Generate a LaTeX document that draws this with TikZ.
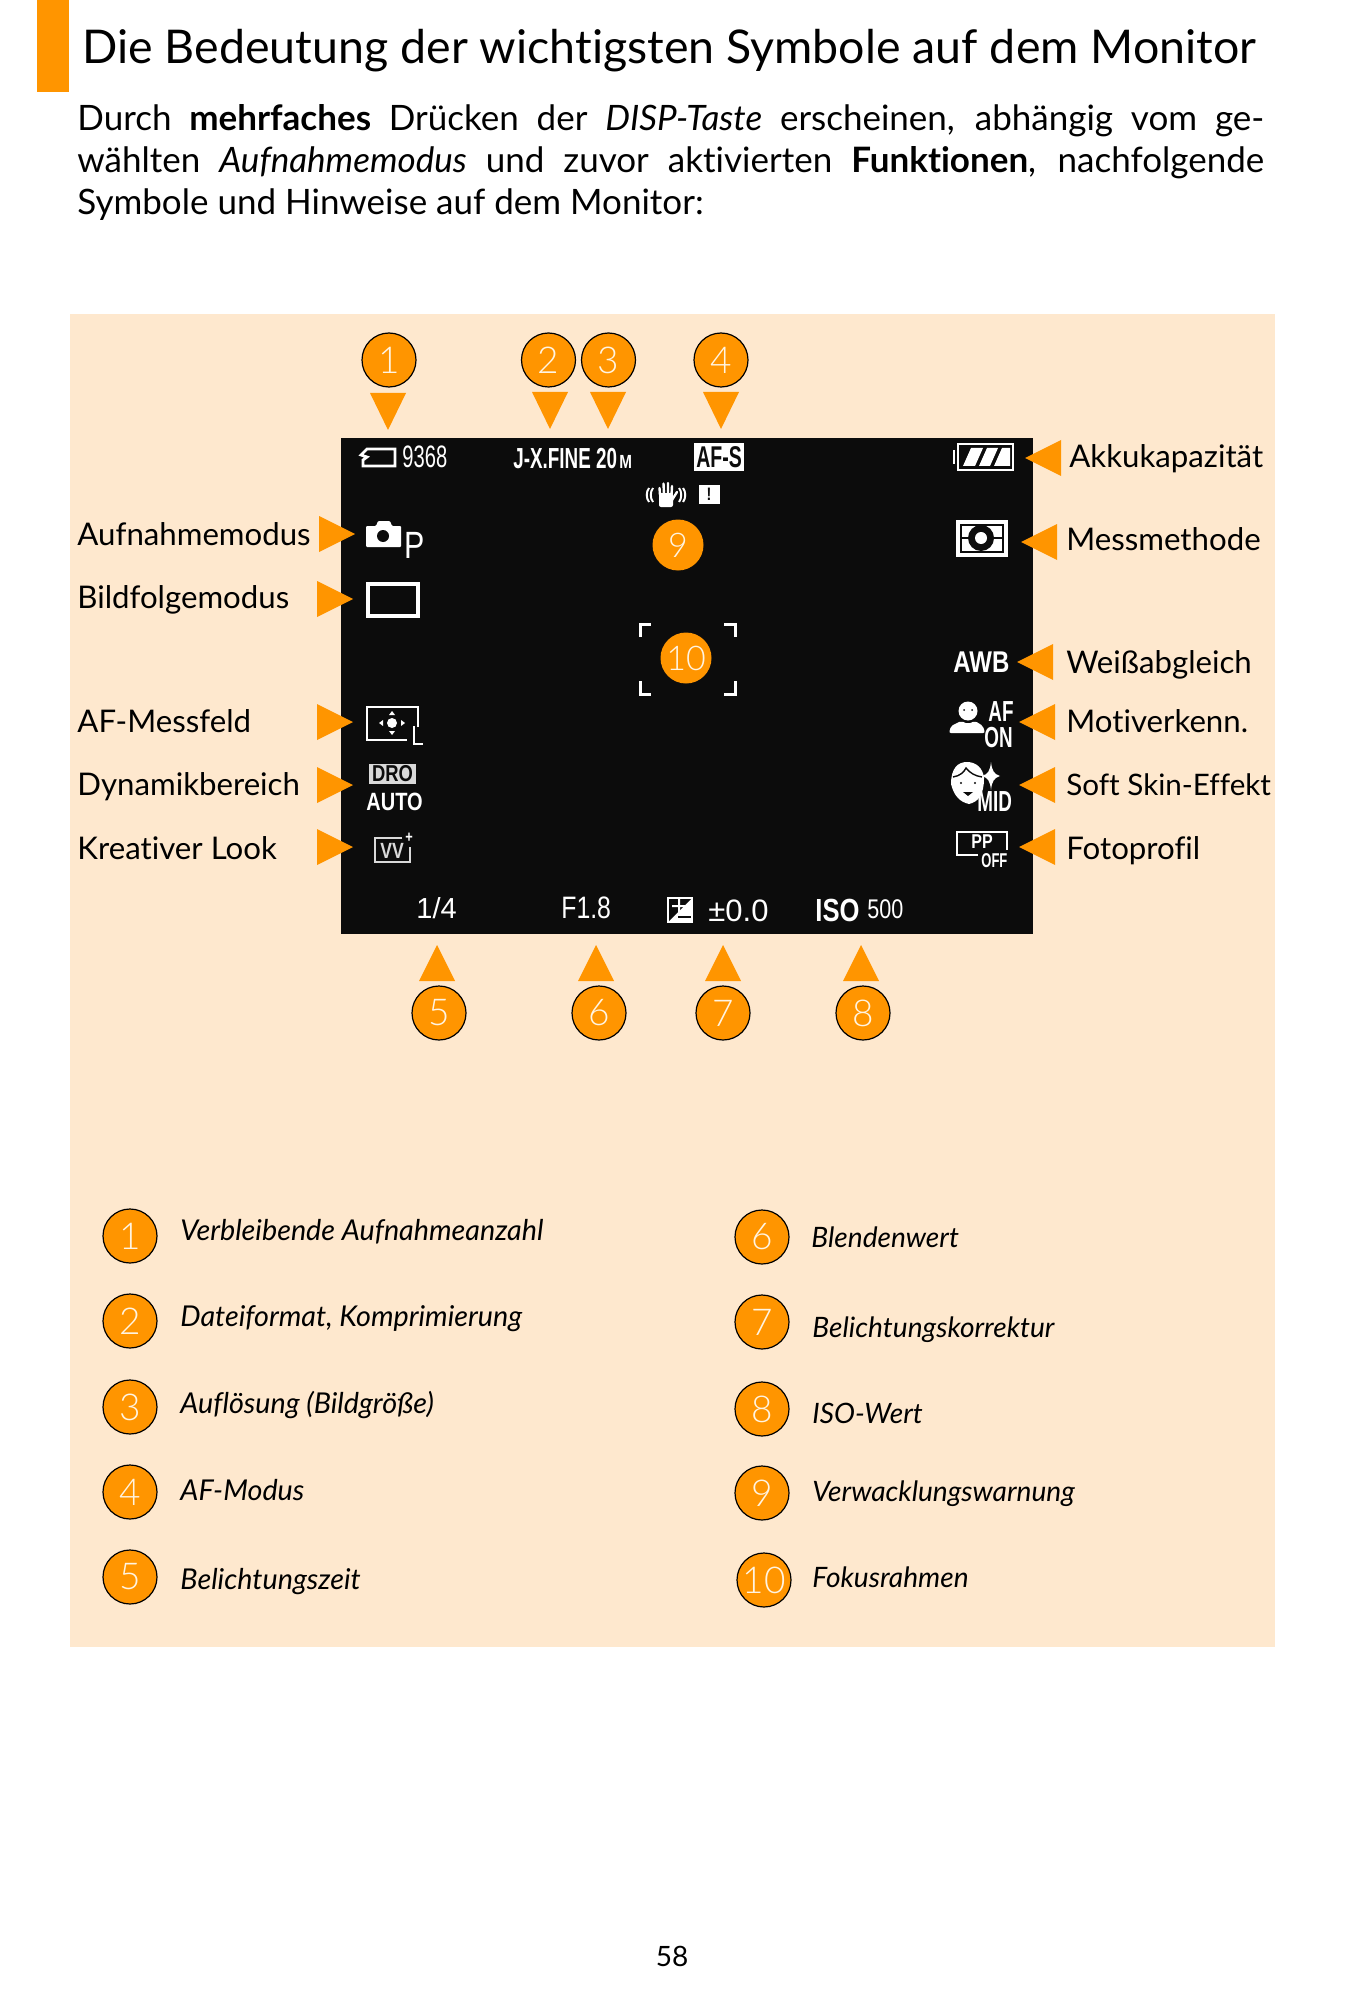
\documentclass[tikz,border=0pt]{standalone}
\usepackage{fontspec}
\usepackage{tikz}
\usetikzlibrary{positioning}
\setmainfont[Ligatures=NoCommon]{Lato}
\newfontfamily\numfont{Lato Light}
\newfontfamily\osdfont[FakeStretch=0.8]{Liberation Sans}
\newfontfamily\osdnarrow[FakeStretch=0.65]{Liberation Sans}
\newfontfamily\osdplain{Liberation Sans}
\definecolor{markorange}{HTML}{FF9500}
\definecolor{panelbg}{HTML}{FEE8CE}
\definecolor{screenbg}{HTML}{0C0C0C}
\definecolor{numcream}{HTML}{FFF4E2}
\newcommand{\fs}[1]{\fontsize{#1pt}{#1pt}\selectfont}
\tikzset{
x=0.5pt, y=-0.5pt, % one unit is one pixel of the page
numdot/.style={circle, draw=black, line width=0.6pt, fill=markorange, minimum size=27pt, inner sep=0pt, text=numcream, font=\numfont\fs{18.5}},
numflat/.style={circle, fill=markorange, minimum size=25.5pt, inner sep=0pt, text=numcream, font=\numfont\fs{17}},
sidelabel/.style={anchor=base west, inner sep=0pt, font=\fs{15.6}},
notelabel/.style={anchor=base west, inner sep=0pt, font=\fs{14.35}\itshape},
notelabelb/.style={anchor=base west, inner sep=0pt, font=\fs{14.05}\itshape},
osd/.style={anchor=base west, inner sep=0pt, text=white, font=\osdfont\fs{14}},
osdbold/.style={osd, font=\osdnarrow\bfseries\fs{14}},
glyph/.style={line width=1.4pt, draw=white},
}
\begin{document}
\begin{tikzpicture}
    \useasboundingbox (0,0) rectangle (1364,2000);
    \fill[white] (0,0) rectangle (1364,2000);
    % heading
    \fill[markorange] (37,0) rectangle (69,92);
    \node[anchor=base west, inner sep=0pt, font=\fs{23.25}] (title) at (82,64) {Die Bedeutung der wichtigsten Symbole auf dem Monitor};
    \node[anchor=north west, inner sep=0pt, text width=593.5pt, align=justify, font=\fontsize{17.5pt}{21pt}\selectfont] (intro) at (77,104) {Durch \textbf{mehrfaches} Drücken der \textit{DISP-Taste} erscheinen, abhängig vom ge-\linebreak wählten \textit{Aufnahmemodus} und zuvor aktivierten \textbf{Funktionen}, nachfolgende\linebreak Symbole und Hinweise auf dem Monitor:};
    \node[anchor=base, inner sep=0pt, font=\fs{14}] (page) at (672,1966) {58};
    % panel and screen
    \fill[panelbg] (70,314) rectangle (1274.5,1647);
    \fill[screenbg] (341,438) rectangle (1033,934);
    % top markers
    \foreach \nr/\px/\tx/\ty in {1/389/388/393, 2/548.5/550/392, 3/608.5/608/392, 4/721/721/392} {
        \node[numdot] (top\nr) at (\px,360) {\nr};
        \fill[markorange] (\tx-18,\ty) -- (\tx+18,\ty) -- (\tx,\ty+37) -- cycle;
    }
    % bottom markers
    \foreach \nr/\px in {5/439, 6/599, 7/723, 8/863} {
        \node[numdot] (bot\nr) at (\px,1013) {\nr};
    }
    \foreach \px in {437, 596, 723, 861} {
        \fill[markorange] (\px-18,981) -- (\px+18,981) -- (\px,945) -- cycle;
    }
    % left and right labels
    \foreach \nm/\tx/\ax/\ay/\by in {Aufnahmemodus/Aufnahmemodus/355/534/545, Bildfolgemodus/Bildfolgemodus/353/599/608, AFfeld/AF-Messfeld/353/722/732, Dynamik/Dynamikbereich/353/785/795, Kreativ/Kreativer Look/353/847/859} {
        \fill[markorange] (\ax-36,\ay-18) -- (\ax-36,\ay+18) -- (\ax,\ay) -- cycle;
        \node[sidelabel] (\nm) at (77,\by) {\tx};
    }
    \foreach \nm/\tx/\lx/\ax/\ay/\by in {Akku/Akkukapazität/1069/1025/458/467, Mess/Messmethode/1066/1021/542/550, Weiss/Weißabgleich/1066/1017/662/673, Motiv/Motiverkenn./1066/1019/722/732, Skin/{\fs{14.8}Soft Skin-Effekt}/1066/1019/785/795, Foto/Fotoprofil/1066/1019/847/859} {
        \fill[markorange] (\ax+36,\ay-18) -- (\ax+36,\ay+18) -- (\ax,\ay) -- cycle;
        \node[sidelabel] (\nm) at (\lx,\by) {\tx};
    }
    % legend
    \foreach \nr/\py/\by/\tx in {1/1236/1240/Verbleibende Aufnahmeanzahl, 2/1321/1326/{Dateiformat, Komprimierung}, 3/1407/1413/Auflösung (Bildgröße), 4/1492/1500/AF-Modus, 5/1577/1589/Belichtungszeit} {
        \node[numdot] (leg\nr) at (130,\py) {\nr};
        \node[notelabel] (legt\nr) at (180,\by) {\tx};
    }
    \foreach \nr/\px/\py/\tx/\lx/\by in {6/762/1237/Blendenwert/811/1247, 7/762/1322/Belichtungskorrektur/812/1337, 8/762/1409/ISO-Wert/812/1423, 9/762/1493/Verwacklungswarnung/812/1501, 10/764/1580/Fokusrahmen/812/1587} {
        \node[numdot] (leg\nr) at (\px,\py) {\nr};
        \node[notelabelb] (legt\nr) at (\lx,\by) {\tx};
    }
    % screen: top row
    \draw[glyph] (367,449) -- (395,449) -- (395,466) -- (363,466) -- (363,460) -- (367,457) -- (361,455) -- cycle;
    \node[osd, font=\osdnarrow\fs{15.5}] (count) at (402,467) {9368};
    \node[osdbold, font=\osdnarrow\bfseries\fs{14.5}] (quality) at (513,468) {J-X.FINE 20};
    \node[osdbold, font=\osdfont\bfseries\fs{9.5}] (sizeM) at (619,468) {M};
    \node[fill=white, minimum width=25pt, minimum height=14pt, inner sep=0pt, text=screenbg, font=\osdnarrow\bfseries\fs{15}] (afs) at (719,457) {AF-S};
    \draw[glyph] (958,444) rectangle (1013,470);
    \fill[white] (953,450) rectangle (955,464);
    \fill[white] (971,448) -- (983,448) -- (975,466) -- (963,466) -- cycle;
    \fill[white] (987,448) -- (998,448) -- (990,466) -- (979,466) -- cycle;
    \fill[white] (1002,448) -- (1010,448) -- (1010,466) -- (994,466) -- cycle;
    % screen: shake warning
    \fill[white, rounded corners=1pt] (659,493) rectangle (673,507);
    \draw[white, line width=1.2pt, line cap=round] (660,495) -- (659.5,488) (664,495) -- (663.5,483.5) (668,495) -- (668,483) (671.5,495) -- (672,486) (672,500) -- (677,492);
    \draw[white, line width=1pt] (649,488) .. controls (646,492) and (646,498) .. (649,502);
    \draw[white, line width=1pt] (653,488) .. controls (650,492) and (650,498) .. (653,502);
    \draw[white, line width=1pt] (679,488) .. controls (682,492) and (682,498) .. (679,502);
    \draw[white, line width=1pt] (683,488) .. controls (686,492) and (686,498) .. (683,502);
    \node[fill=white, minimum width=10.5pt, minimum height=9.5pt, inner sep=0pt, text=screenbg, font=\osdfont\bfseries\fs{9}] (warn) at (709,494) {!};
    \node[numflat] (dot9) at (678,545) {9};
    % screen: focus frame
    \draw[white, line width=1.5pt] (640,637) -- (640,624) -- (651,624);
    \draw[white, line width=1.5pt] (724,624) -- (735,624) -- (735,637);
    \draw[white, line width=1.5pt] (640,681) -- (640,694) -- (651,694);
    \draw[white, line width=1.5pt] (724,694) -- (735,694) -- (735,681);
    \node[numflat] (dot10) at (686,658) {10};
    % screen: left column
    \fill[white, rounded corners=0.5pt] (366,526) -- (376,526) -- (378,521) -- (390,521) -- (392,526) -- (401,526) -- (401,547) -- (366,547) -- cycle;
    \fill[screenbg] (383,536) circle[radius=6];
    \node[osd, font=\osdfont\fs{19}] (modeP) at (404,558) {P};
    \draw[glyph, line width=1.6pt] (368,584) rectangle (418,616);
    \draw[glyph, line width=1.4pt] (418,727) -- (418,707) -- (367,707) -- (367,740) -- (407,740);
    \draw[glyph, line width=1.4pt] (414,726) -- (414,744) -- (423,744);
    \fill[white] (392,723) circle[radius=5];
    \fill[white] (379,723) -- (383,720) -- (383,726) -- cycle;
    \fill[white] (405,723) -- (401,720) -- (401,726) -- cycle;
    \fill[white] (392,711) -- (389,715) -- (395,715) -- cycle;
    \fill[white] (392,735) -- (389,731) -- (395,731) -- cycle;
    \node[fill=white!85!black, minimum width=23.5pt, minimum height=10pt, inner sep=0pt, text=screenbg, font=\osdfont\bfseries\fs{11.5}] (dro) at (392.5,774) {DRO};
    \node[osdbold, font=\osdfont\bfseries\fs{12.5}] (droauto) at (366,810) {AUTO};
    \draw[white!85!black, line width=0.8pt] (402,838) -- (375,838) -- (375,862) -- (410,862) -- (410,847);
    \node[anchor=center, inner sep=0pt, text=white!85!black, font=\osdfont\bfseries\fs{11}] (look) at (392,851) {VV};
    \node[anchor=center, inner sep=0pt, text=white, font=\osdfont\bfseries\fs{8}] (lookplus) at (409,838) {+};
    % screen: right column
    \fill[white] (956,520) rectangle (1008,557);
    \draw[screenbg, line width=0.6pt] (961,525) rectangle (1003,552);
    \draw[screenbg, line width=0.6pt] (961,538) -- (1003,538);
    \fill[screenbg] (981,538) circle[radius=13];
    \fill[white] (981,538) circle[radius=6];
    \node[osdbold, font=\osdfont\bfseries\fs{15}] (awb) at (953,672) {AWB};
    \fill[white] (968,711) circle[radius=9.5];
    \fill[screenbg] (964,710) circle[radius=1] (972,710) circle[radius=1];
    \fill[white, rounded corners=1pt] (949,733) -- (951,726) -- (961,721) -- (968,724) -- (975,721) -- (983,726) -- (985,733) -- cycle;
    \node[osdbold, font=\osdnarrow\bfseries\fs{14.5}] (afon1) at (988,721) {AF};
    \node[osdbold, font=\osdnarrow\bfseries\fs{14.5}] (afon2) at (984,747) {ON};
    \fill[white] (951,784) .. controls (951,768) and (958,762) .. (967,762) .. controls (976,762) and (983,768) .. (984,778) .. controls (984,795) and (978,802) .. (969,804) .. controls (960,802) and (954,796) .. (951,784) -- cycle;
    \draw[screenbg, line width=0.7pt] (953,777) .. controls (960,776) and (964,772) .. (966,768) .. controls (970,773) and (975,776) .. (982,777);
    \fill[screenbg] (961,783) circle[radius=1.1] (975,783) circle[radius=1.1];
    \fill[screenbg] (963,792) -- (973,792) -- (968,796) -- cycle;
    \fill[white] (991,762) .. controls (992,771) and (994,774) .. (1000,776) .. controls (994,778) and (992,781) .. (991,790) .. controls (990,781) and (988,778) .. (982,776) .. controls (988,774) and (990,771) .. (991,762) -- cycle;
    \node[osdbold, font=\osdnarrow\bfseries\fs{14.5}] (skinmid) at (977,811) {MID};
    \draw[glyph, line width=1pt] (978,855) -- (957,855) -- (957,832) -- (1007,832) -- (1007,850);
    \node[anchor=center, inner sep=0pt, text=white, font=\osdfont\bfseries\fs{10}] (pp) at (982,842) {PP};
    \node[osdbold, font=\osdnarrow\bfseries\fs{10}] (ppoff) at (981,867) {OFF};
    % screen: bottom row
    \node[osd, font=\osdplain\fs{14.5}] (shutter) at (416,918) {1/4};
    \node[osd, font=\osdfont\fs{15.5}] (fnum) at (561,918) {F1.8};
    \fill[white] (667,897) rectangle (693,923);
    \fill[screenbg] (669,921) -- (691,899) -- (669,899) -- cycle;
    \fill[white] (672,905) rectangle (686,907) (678,899) rectangle (680,913);
    \fill[screenbg] (678,916) rectangle (691,918);
    \node[osd, font=\osdplain\fs{15.5}] (evval) at (708,921) {±0.0};
    \node[osdbold, font=\osdfont\bfseries\fs{16}] (isotxt) at (815,921) {ISO};
    \node[osd, font=\osdfont\fs{13.5}] (isoval) at (867,918) {500};
\end{tikzpicture}
\end{document}
